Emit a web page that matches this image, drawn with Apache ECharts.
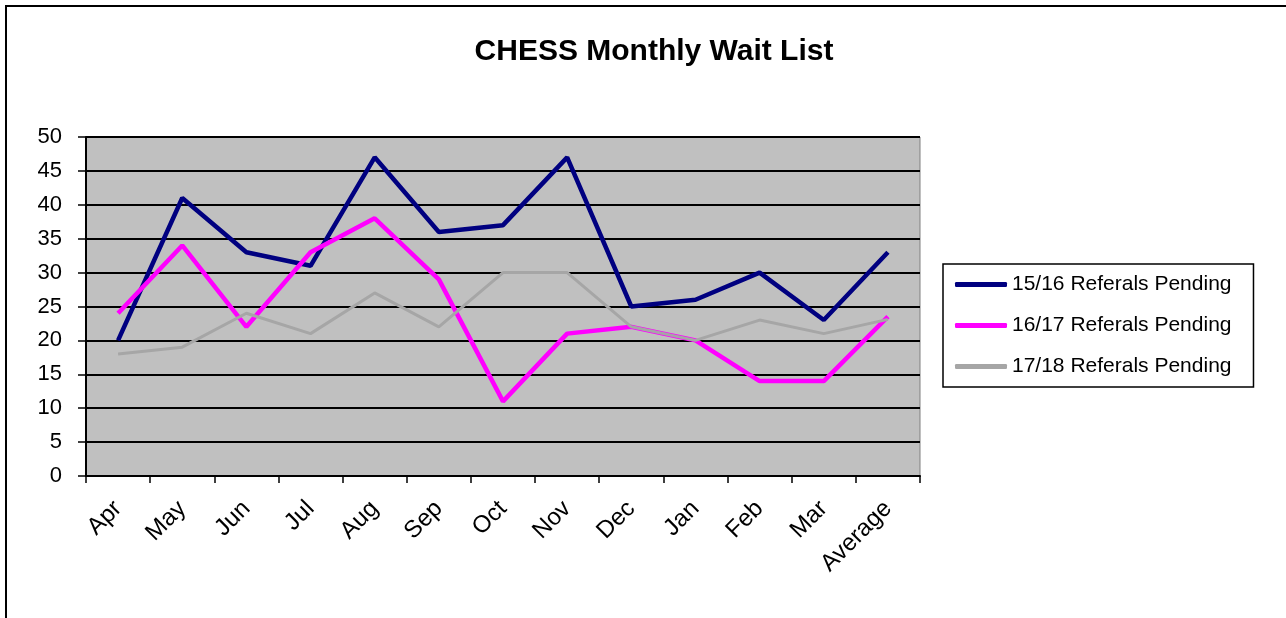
<!DOCTYPE html>
<html><head><meta charset="utf-8">
<script src="https://cdn.jsdelivr.net/npm/echarts@6/dist/echarts.min.js"></script>
<style>html,body{margin:0;padding:0;background:#fff;}#c{width:1286px;height:618px;}</style>
</head><body><div id="c"></div>
<script>
var categories = ['Apr','May','Jun','Jul','Aug','Sep','Oct','Nov','Dec','Jan','Feb','Mar','Average'];
var s1516 = [20,41,33,31,47,36,37,47,25,26,30,23,33];
var s1617 = [24,34,22,33,38,29,11,21,22,20,14,14,23.5];
var s1718 = [18,19,24,21,27,22,30,30,22,20,23,21,23.1];
var yTicks = [0,5,10,15,20,25,30,35,40,45,50];
var seriesNames = ['15/16 Referals Pending','16/17 Referals Pending','17/18 Referals Pending'];

var chart = echarts.init(document.getElementById('c'));
var font = 'Liberation Sans, Arial, sans-serif';
chart.setOption({
  animation:false,
  textStyle:{fontFamily:font},
  title:{text:'CHESS Monthly Wait List',left:649,top:32,textAlign:'center',
    textStyle:{fontFamily:font,fontSize:30,fontWeight:'bold',color:'#000'}},
  graphic:[{type:'rect',shape:{x:6,y:6,width:1300,height:640},style:{fill:'none',stroke:'#000',lineWidth:2},z:-1}],
  grid:{left:86,right:366,top:137,bottom:142,show:true,backgroundColor:'#c0c0c0',borderColor:'#808080',borderWidth:1},
  legend:{orient:'vertical',left:943,top:264,padding:[10,22,10,12],
    borderColor:'#000',borderWidth:1.5,itemGap:20,itemWidth:52,itemHeight:5,icon:'roundRect',
    textStyle:{fontFamily:font,fontSize:21,color:'#000'},data:seriesNames},
  xAxis:{type:'category',data:categories,boundaryGap:true,
    axisLine:{lineStyle:{color:'#000',width:2}},
    axisTick:{show:true,length:7,lineStyle:{color:'#000',width:1.5}},
    axisLabel:{rotate:45,fontSize:24,color:'#000',fontFamily:font,margin:29,interval:0}},
  yAxis:{type:'value',min:yTicks[0],max:yTicks[yTicks.length-1],interval:5,
    axisLine:{show:true,lineStyle:{color:'#000',width:2}},
    axisTick:{show:true,length:8,lineStyle:{color:'#000',width:1.5}},
    splitLine:{show:true,lineStyle:{color:'#000',width:2}},
    axisLabel:{fontSize:22,color:'#000',fontFamily:font,margin:24}},
  series:[
    {name:seriesNames[0],type:'line',data:s1516,showSymbol:false,symbol:'none',lineStyle:{color:'#000080',width:4.5},itemStyle:{color:'#000080'}},
    {name:seriesNames[1],type:'line',data:s1617,showSymbol:false,symbol:'none',lineStyle:{color:'#ff00ff',width:4.5},itemStyle:{color:'#ff00ff'}},
    {name:seriesNames[2],type:'line',data:s1718,showSymbol:false,symbol:'none',lineStyle:{color:'#a6a6a6',width:3},itemStyle:{color:'#a6a6a6'}}
  ]
});
</script></body></html>
